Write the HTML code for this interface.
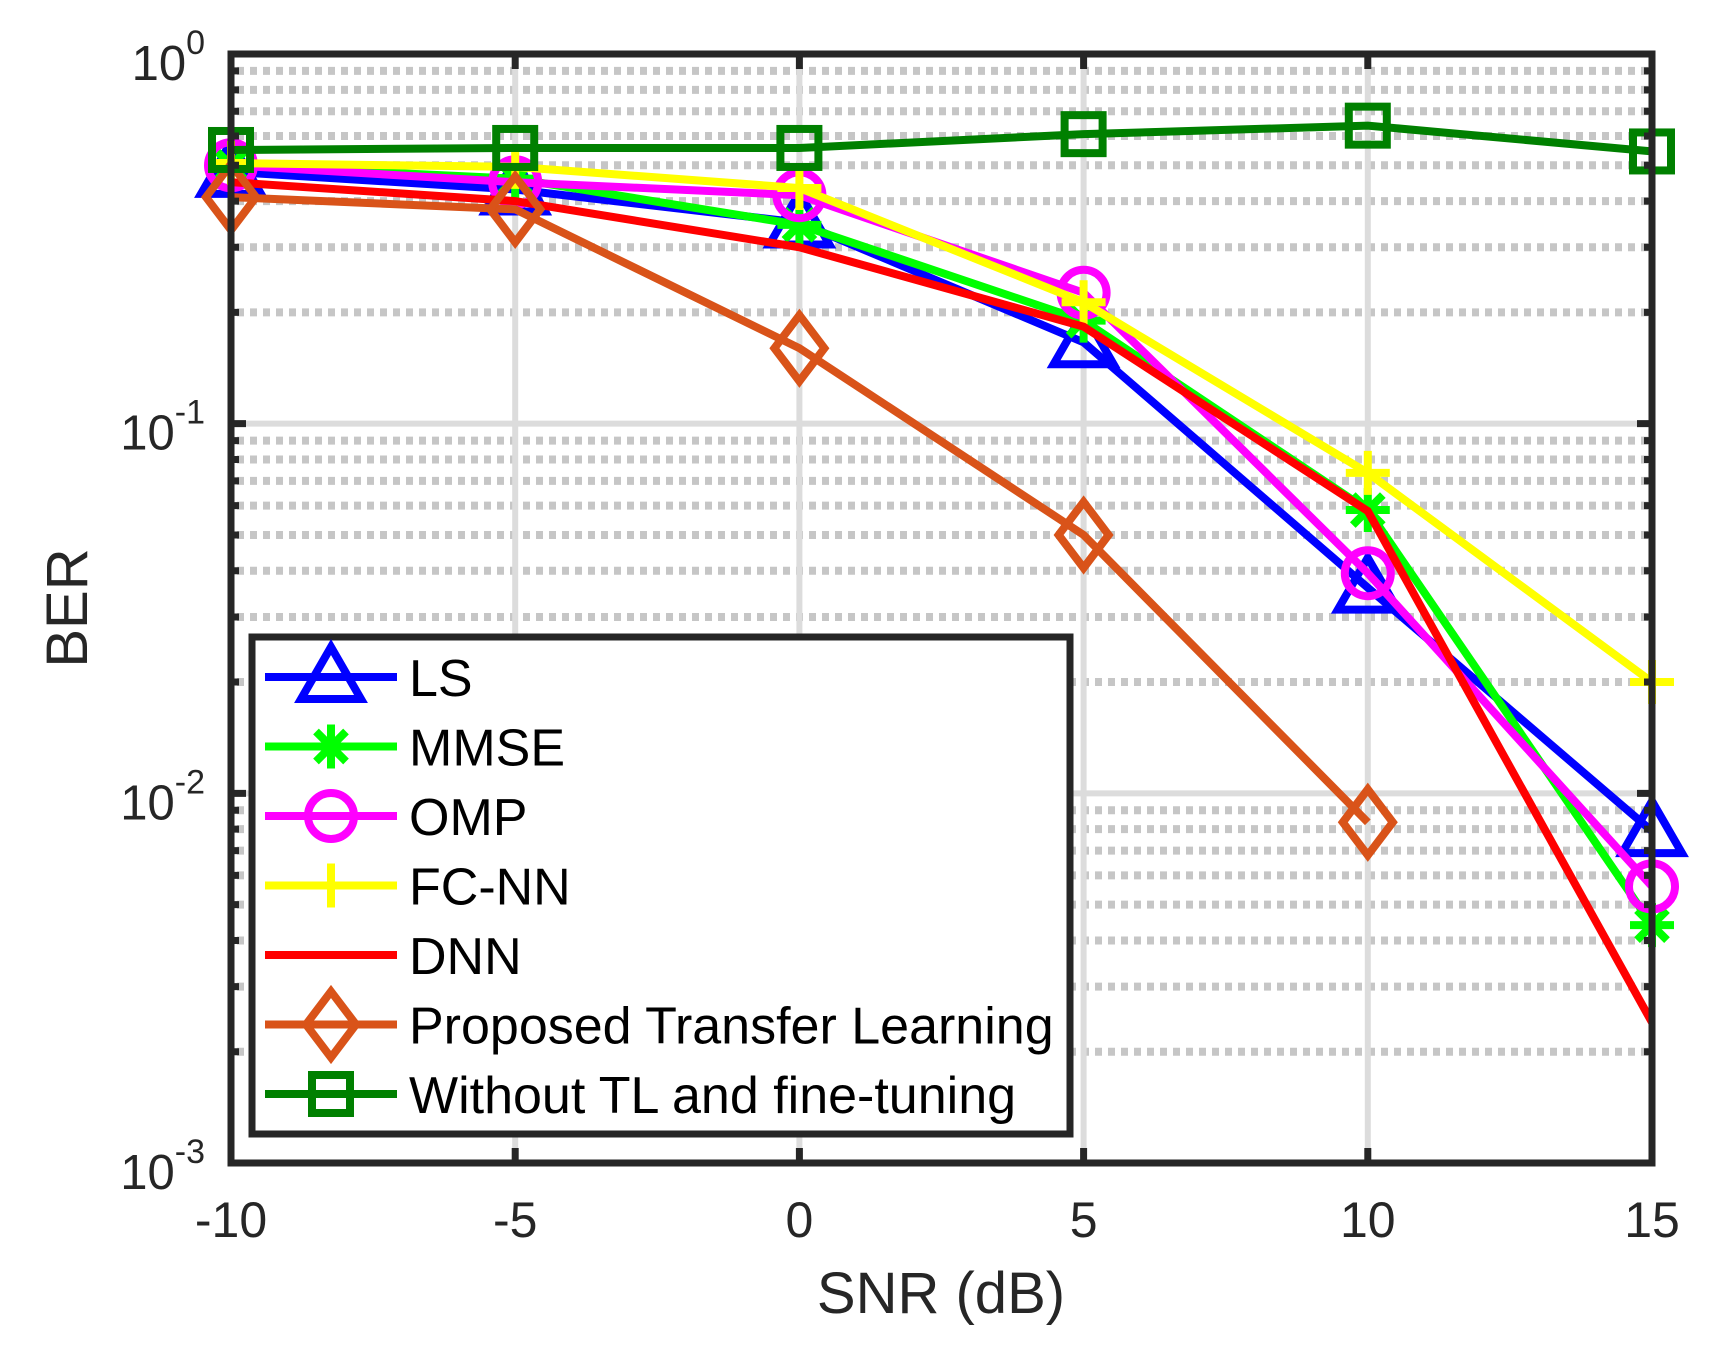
<!DOCTYPE html>
<html><head><meta charset="utf-8"><style>
html,body{margin:0;padding:0;background:#fff;}
svg{display:block;font-family:"Liberation Sans",Arial,sans-serif;}
</style></head><body>
<svg id="chart" width="1719" height="1348" viewBox="0 0 1719 1348" xmlns="http://www.w3.org/2000/svg">
<rect width="1719" height="1348" fill="#fff"/>
<g id="grid"></g>
<g id="series"></g>
<g id="axes"></g>
<g id="legend"></g>
</svg>
<script>
const snr = [-10, -5, 0, 5, 10, 15];
const xTicks = [-10, -5, 0, 5, 10, 15];
const yDecades = [0, -1, -2, -3];
const berLS = [0.48, 0.43, 0.35, 0.166, 0.036, 0.0079];
const berMMSE = [0.50, 0.46, 0.345, 0.19, 0.0584, 0.0044];
const berOMP = [0.50, 0.45, 0.415, 0.226, 0.0394, 0.0056];
const berFCNN = [0.507, 0.495, 0.434, 0.213, 0.0736, 0.020];
const berDNN = [0.45, 0.40, 0.30, 0.183, 0.058, 0.0024];
const berTL = [0.41, 0.38, 0.16, 0.050, 0.00835];
const berNoTL = [0.55, 0.557, 0.557, 0.607, 0.64, 0.545];
const seriesNames = ["LS","MMSE","OMP","FC-NN","DNN","Proposed Transfer Learning","Without TL and fine-tuning"];

const NS="http://www.w3.org/2000/svg";
const L=231,R=1652,T=54,B=1163;
const xS=v=>L+(v+10)/25*(R-L);
const yS=v=>T+(-Math.log10(v))/3*(B-T);
function mk(tag,attrs,parent){const e=document.createElementNS(NS,tag);for(const k in attrs)e.setAttribute(k,attrs[k]);parent.appendChild(e);return e;}
const grid=document.getElementById('grid'),ser=document.getElementById('series'),axes=document.getElementById('axes'),leg=document.getElementById('legend');

for(const d of [-1,-2,-3]){for(let m=2;m<=9;m++){const y=yS(m*Math.pow(10,d));
 const g=mk('line',{x1:L+6,x2:R-4,y1:y,y2:y,stroke:'#c6c6c6','stroke-width':8,'stroke-dasharray':'7 6'},grid);
 
 }}
for(const d of [-1,-2]){const y=yS(Math.pow(10,d));
 const g=mk('line',{x1:L,x2:R,y1:y,y2:y,stroke:'#dcdcdc','stroke-width':6},grid);
 
 }
for(const t of xTicks.slice(1,-1)){const x=xS(t);
 const g=mk('line',{x1:x,x2:x,y1:T,y2:B,stroke:'#dcdcdc','stroke-width':6},grid);
 
 }

function marker(type,x,y,color,parent){
 const sw=8;let e;
 if(type==='tri'){e=mk('polygon',{points:`${x},${y-30} ${x+30},${y+22} ${x-30},${y+22}`,fill:'none',stroke:color,'stroke-width':sw},parent);}
 else if(type==='star'){e=mk('g',{},parent);
  mk('path',{d:`M${x-22},${y}H${x+22}M${x},${y-22}V${y+22}M${x-15},${y-15}L${x+15},${y+15}M${x-15},${y+15}L${x+15},${y-15}`,stroke:color,'stroke-width':sw,fill:'none'},e);}
 else if(type==='circ'){e=mk('circle',{cx:x,cy:y,r:23,fill:'none',stroke:color,'stroke-width':sw},parent);}
 else if(type==='plus'){e=mk('path',{d:`M${x-22},${y}H${x+22}M${x},${y-22}V${y+22}`,stroke:color,'stroke-width':sw,fill:'none'},parent);}
 else if(type==='dia'){e=mk('polygon',{points:`${x},${y-33} ${x+25},${y} ${x},${y+33} ${x-25},${y}`,fill:'none',stroke:color,'stroke-width':sw},parent);}
 else if(type==='sq'){e=mk('rect',{x:x-19,y:y-19,width:38,height:38,fill:'none',stroke:color,'stroke-width':sw},parent);}
 if(e){
 }
}
const defs=[
 {name:'ls',data:berLS,color:'#0000ff',m:'tri'},
 {name:'mmse',data:berMMSE,color:'#00ff00',m:'star'},
 {name:'omp',data:berOMP,color:'#ff00ff',m:'circ'},
 {name:'fc-nn',data:berFCNN,color:'#ffff00',m:'plus'},
 {name:'dnn',data:berDNN,color:'#ff0000',m:null},
 {name:'transfer-learning',data:berTL,color:'#d95319',m:'dia'},
 {name:'without-tl',data:berNoTL,color:'#008000',m:'sq'}];
for(const s of defs){
 const g=mk('g',{},ser);
 
 
 const pts=s.data.map((v,i)=>xS(snr[i])+','+yS(v)).join(' ');
 const pl=mk('polyline',{points:pts,fill:'none',stroke:s.color,'stroke-width':8,'stroke-linejoin':'miter'},g);
 
 
 if(s.m)s.data.forEach((v,i)=>marker(s.m,xS(snr[i]),yS(v),s.color,g));
}

const fr=mk('rect',{x:L,y:T,width:R-L,height:B-T,fill:'none',stroke:'#262626','stroke-width':7},axes);


let tp='';
for(const t of xTicks){const x=xS(t);tp+=`M${x},${B}V${B-15}M${x},${T}V${T+15}`;}
for(const d of yDecades){const y=yS(Math.pow(10,d));tp+=`M${L},${y}H${L+15}M${R},${y}H${R-15}`;}
for(const d of [-1,-2,-3]){for(let m=2;m<=9;m++){const y=yS(m*Math.pow(10,d));tp+=`M${L},${y}H${L+8}M${R},${y}H${R-8}`;}}
const tk=mk('path',{d:tp,stroke:'#262626','stroke-width':7,fill:'none'},axes);


for(const t of xTicks){const tx=mk('text',{x:xS(t),y:1237,'text-anchor':'middle','font-size':50,fill:'#262626'},axes);
 tx.textContent=t;
 
 }
for(const d of yDecades){const y=yS(Math.pow(10,d));
 const tx=mk('text',{x:205,y:y+26,'text-anchor':'end','font-size':49,fill:'#262626'},axes);
 
 
 tx.appendChild(document.createTextNode('10'));
 const sp=mk('tspan',{'font-size':34,dy:-26},tx);sp.textContent=String(d);}
const xt=mk('text',{x:941,y:1313,'text-anchor':'middle','font-size':58,fill:'#262626'},axes);
xt.textContent='SNR (dB)';


const yt=mk('text',{x:0,y:0,'text-anchor':'middle','font-size':58,fill:'#262626',transform:'translate(87,608) rotate(-90)'},axes);
yt.textContent='BER';



const lb=mk('rect',{x:252,y:637,width:818,height:497,fill:'#fff',stroke:'#262626','stroke-width':7},leg);


seriesNames.forEach((n,i)=>{
 const y=677+i*69.5,s=defs[i];
 const g=mk('g',{},leg);
 
 
 mk('line',{x1:265,x2:397,y1:y,y2:y,stroke:s.color,'stroke-width':8},g);
 if(s.m)marker(s.m,331,y,s.color,g);
 const tx=mk('text',{x:409,y:y+19,'font-size':52,fill:'#000'},g);
 tx.textContent=n;
});
</script>
</body></html>
